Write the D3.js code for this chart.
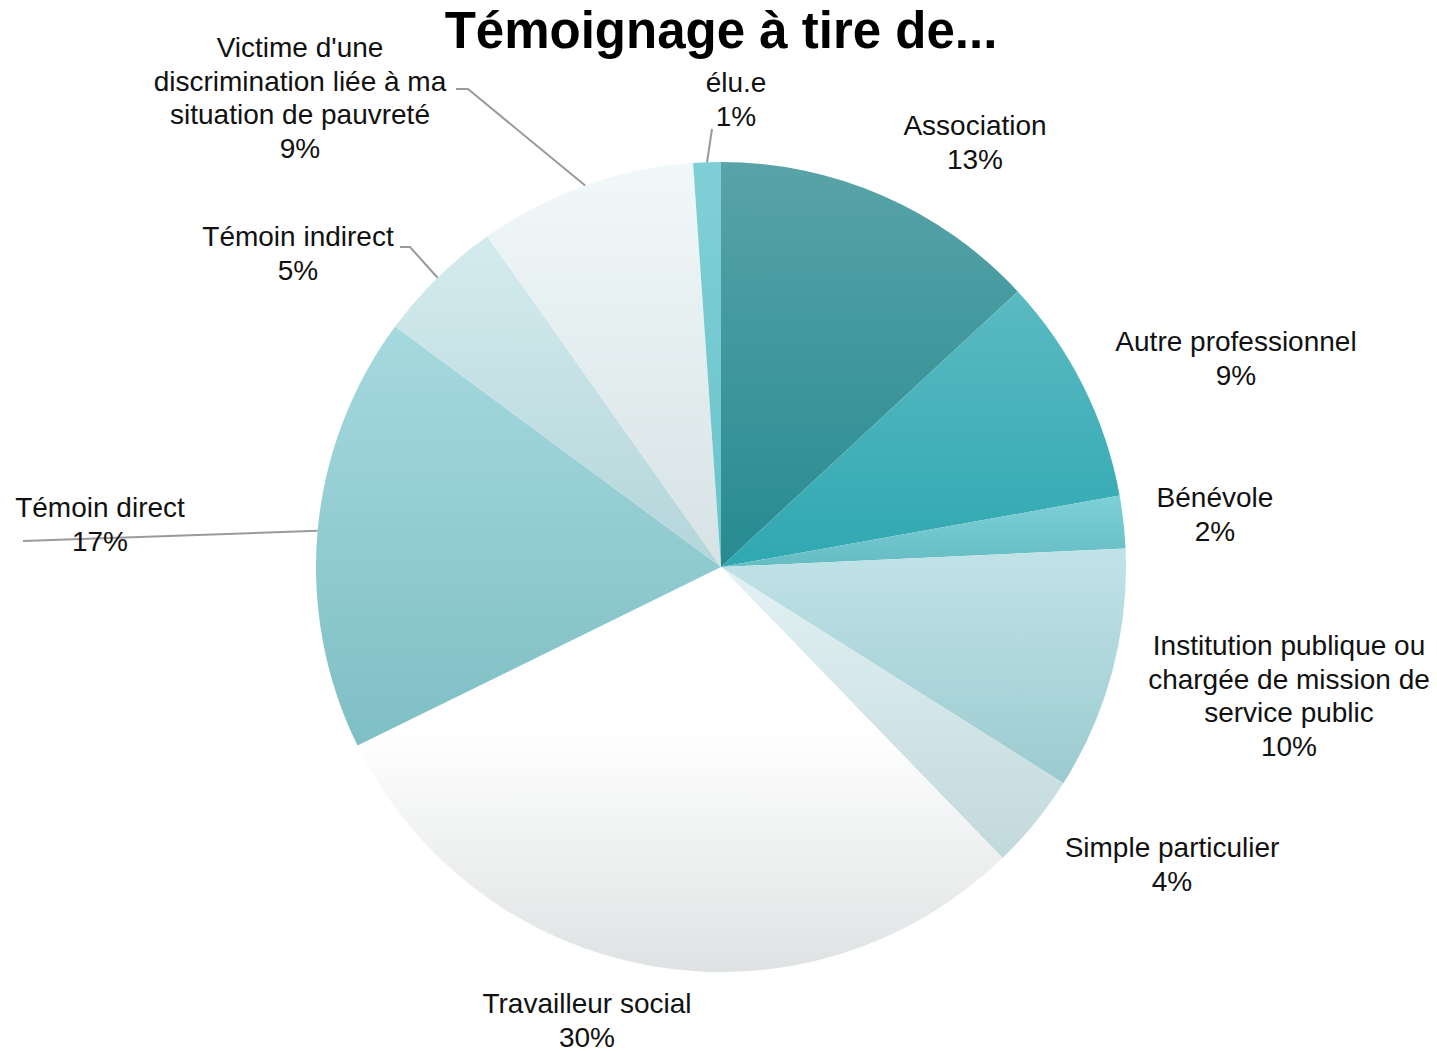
<!DOCTYPE html>
<html>
<head>
<meta charset="utf-8">
<title>Témoignage à tire de...</title>
<script src="https://cdn.jsdelivr.net/npm/d3@7"></script>
<style>
  body { margin: 0; background: #fff; }
  svg { display: block; }
  .lbl { font-family: "Liberation Sans", Arial, sans-serif; font-size: 28px; fill: #111; }
  .title { font-family: "Liberation Sans", Arial, sans-serif; font-size: 51px; font-weight: bold; fill: #000; }
  .leader { fill: none; stroke: #9a9a9a; stroke-width: 2px; }
</style>
</head>
<body>
<div id="chart"></div>
<script>
// data, clockwise from 12 o'clock (shares in %)
var categories = ["Association", "Autre professionnel", "Bénévole",
  "Institution publique ou chargée de mission de service public",
  "Simple particulier", "Travailleur social", "Témoin direct",
  "Témoin indirect", "Victime d'une discrimination liée à ma situation de pauvreté", "élu.e"];
var values = [13.1, 9.1, 2.1, 9.7, 3.8, 30.0, 17.4, 5.1, 8.7, 1.1];
var colorTop = ["#58a3a8", "#5bbac2", "#7dd0d6", "#c1e3e7", "#e2f1f4", "#ffffff", "#a5d9de", "#d4ebee", "#f1f8f9", "#80cfd6"];
var colorBottom = ["#268b91", "#2fa8b1", "#66bcc4", "#9bcbd0", "#c2d9dc", "#dfe2e3", "#7ebfc5", "#b3d5da", "#d6e2e4", "#69c3cb"];
var whiteUntil = [0, 0, 0, 0, 0, 0.4, 0, 0, 0, 0];

// label layout (how the labels are wrapped and where they sit)
var labelLines = [
  ["Association"], ["Autre professionnel"], ["Bénévole"],
  ["Institution publique ou", "chargée de mission de", "service public"],
  ["Simple particulier"], ["Travailleur social"], ["Témoin direct"],
  ["Témoin indirect"], ["Victime d'une", "discrimination liée à ma", "situation de pauvreté"], ["élu.e"]
];
var labelXY = [[975, 135], [1236, 351], [1215, 507], [1289, 655], [1172, 857],
  [587, 1013], [100, 517], [298, 246], [300, 57], [736, 92]];
var leaders = { 6: [[23, 541]], 7: [[410, 247], [400, 247]], 8: [[468, 89], [456, 89]], 9: [[712, 129]] };

var width = 1437, height = 1051;
var cx = 721, cy = 567, radius = 405, lineH = 33.5;

var svg = d3.select("#chart").append("svg")
  .attr("width", width).attr("height", height);

var defs = svg.append("defs");
categories.forEach(function(c, i) {
  var g = defs.append("linearGradient").attr("id", "grad" + i)
    .attr("x1", 0).attr("y1", 0).attr("x2", 0).attr("y2", 1);
  g.append("stop").attr("offset", "0%").attr("stop-color", colorTop[i]);
  if (whiteUntil[i] > 0)
    g.append("stop").attr("offset", whiteUntil[i]).attr("stop-color", colorTop[i]);
  g.append("stop").attr("offset", "100%").attr("stop-color", colorBottom[i]);
});

var pie = d3.pie().sort(null).value(function(d) { return d; });
var arc = d3.arc().innerRadius(0).outerRadius(radius);
var arcs = pie(values);

var g = svg.append("g").attr("transform", "translate(" + cx + "," + cy + ")");
g.selectAll("path.slice")
  .data(arcs)
  .enter().append("path")
  .attr("class", "slice")
  .attr("d", arc)
  .attr("fill", function(d, i) { return "url(#grad" + i + ")"; });

// leader lines from the slice edge at its mid angle
arcs.forEach(function(d, i) {
  if (!leaders[i]) return;
  var a = (d.startAngle + d.endAngle) / 2;
  var pts = [[cx + radius * Math.sin(a), cy - radius * Math.cos(a)]].concat(leaders[i]);
  svg.append("path").attr("class", "leader").attr("d", d3.line()(pts));
});

// labels
arcs.forEach(function(d, i) {
  var lines = labelLines[i].concat([Math.round(d.value) + "%"]);
  var t = svg.append("text").attr("class", "lbl").attr("text-anchor", "middle");
  lines.forEach(function(s, k) {
    t.append("tspan").attr("x", labelXY[i][0]).attr("y", labelXY[i][1] + k * lineH).text(s);
  });
});

svg.append("text").attr("class", "title")
  .attr("x", 721).attr("y", 48)
  .attr("text-anchor", "middle")
  .text("Témoignage à tire de...");
</script>
</body>
</html>
